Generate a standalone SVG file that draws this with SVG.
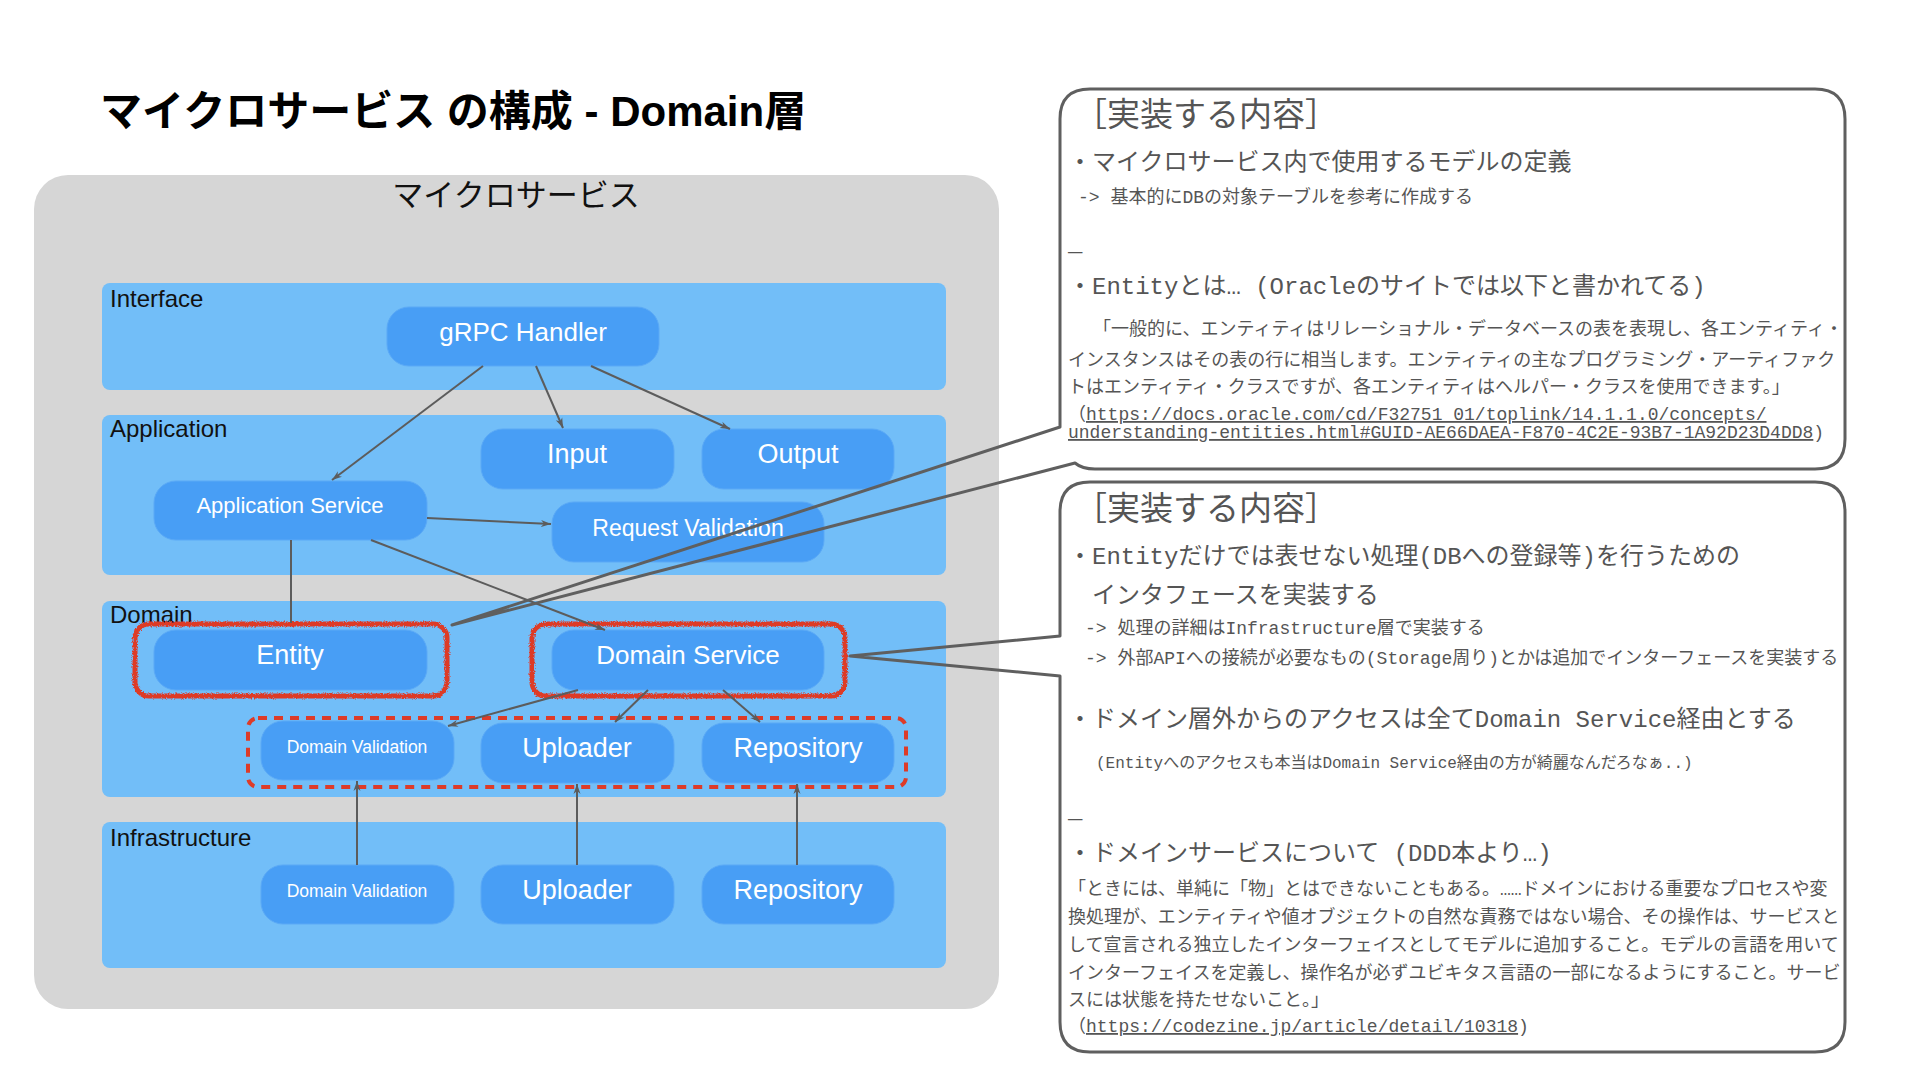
<svg xmlns="http://www.w3.org/2000/svg" width="1920" height="1080" viewBox="0 0 1920 1080">
<style>
.title{font-family:"Liberation Sans","Noto Sans CJK JP",sans-serif;font-weight:bold;font-size:42px;fill:#000}
.svc{font-family:"Noto Sans CJK JP",sans-serif;font-size:31px;fill:#111}
.band{fill:#72BEF8}
.lbl{font-family:"Liberation Sans","Noto Sans CJK JP",sans-serif;font-size:24px;fill:#111}
.node rect{fill:#489EF5;stroke:#5AA9F6;stroke-width:1}
.node text{font-family:"Liberation Sans","Noto Sans CJK JP",sans-serif;fill:#fff;text-anchor:middle}
.conn line,.conn polyline{stroke:#5c5c5c;stroke-width:2;fill:none}
.rough{fill:none;stroke:#DD3B28;stroke-width:5;filter:url(#rough)}
.dash{fill:none;stroke:#DD3B28;stroke-width:4;stroke-dasharray:9 7}
.callout{fill:none;stroke:#5f5f5f;stroke-width:3;stroke-linejoin:round}
.ct{font-family:"Liberation Mono","Noto Sans CJK JP",monospace;fill:#555}
.h{font-size:33px}
.b{font-size:24px}
.s{font-size:18px}
.xs{font-size:16px}
.u{text-decoration:underline}
</style>
<defs>
<marker id="arr" markerUnits="userSpaceOnUse" markerWidth="12" markerHeight="10" refX="10" refY="4" orient="auto">
<path d="M0,0.5 L10,4 L0,7.5 L3,4 Z" fill="#5c5c5c"/>
</marker>
<filter id="rough" x="-10%" y="-20%" width="120%" height="140%">
<feTurbulence type="fractalNoise" baseFrequency="0.9" numOctaves="2" seed="3" result="n"/>
<feDisplacementMap in="SourceGraphic" in2="n" scale="4" xChannelSelector="R" yChannelSelector="G"/>
</filter>
</defs>
<rect width="1920" height="1080" fill="#fff"/>

<text class="title" x="100" y="126">マイクロサービス の構成 - Domain層</text>

<g id="microservice">
<rect x="34" y="175" width="965" height="834" rx="34" fill="#D6D6D6"/>
<text class="svc" x="516" y="206" text-anchor="middle">マイクロサービス</text>
</g>

<g id="layer-interface"><rect class="band" x="102" y="283" width="844" height="107" rx="8"/><text class="lbl" x="110" y="307">Interface</text></g>
<g id="layer-application"><rect class="band" x="102" y="415" width="844" height="160" rx="8"/><text class="lbl" x="110" y="437">Application</text></g>
<g id="layer-domain"><rect class="band" x="102" y="601" width="844" height="196" rx="8"/><text class="lbl" x="110" y="623">Domain</text></g>
<g id="layer-infrastructure"><rect class="band" x="102" y="822" width="844" height="146" rx="8"/><text class="lbl" x="110" y="846">Infrastructure</text></g>

<g id="grpc-handler" class="node"><rect x="387" y="307" width="272" height="59" rx="22"/><text x="523" y="341" font-size="26">gRPC Handler</text></g>
<g id="input" class="node"><rect x="481" y="429" width="193" height="60" rx="22"/><text x="577" y="463" font-size="27">Input</text></g>
<g id="output" class="node"><rect x="702" y="429" width="192" height="60" rx="22"/><text x="798" y="463" font-size="27">Output</text></g>
<g id="application-service" class="node"><rect x="154" y="481" width="273" height="59" rx="22"/><text x="290" y="513" font-size="22">Application Service</text></g>
<g id="request-validation" class="node"><rect x="552" y="502" width="272" height="60" rx="22"/><text x="688" y="536" font-size="23">Request Validation</text></g>
<g id="entity" class="node"><rect x="154" y="630" width="273" height="60" rx="22"/><text x="290" y="664" font-size="27">Entity</text></g>
<g id="domain-service" class="node"><rect x="552" y="630" width="272" height="60" rx="22"/><text x="688" y="664" font-size="26">Domain Service</text></g>
<g id="domain-validation" class="node"><rect x="261" y="721" width="193" height="59" rx="22"/><text x="357" y="753" font-size="17.5">Domain Validation</text></g>
<g id="uploader" class="node"><rect x="481" y="723" width="193" height="60" rx="22"/><text x="577" y="757" font-size="27">Uploader</text></g>
<g id="repository" class="node"><rect x="702" y="723" width="192" height="60" rx="22"/><text x="798" y="757" font-size="27">Repository</text></g>
<g id="infra-domain-validation" class="node"><rect x="261" y="865" width="193" height="59" rx="22"/><text x="357" y="897" font-size="17.5">Domain Validation</text></g>
<g id="infra-uploader" class="node"><rect x="481" y="865" width="193" height="59" rx="22"/><text x="577" y="899" font-size="27">Uploader</text></g>
<g id="infra-repository" class="node"><rect x="702" y="865" width="192" height="59" rx="22"/><text x="798" y="899" font-size="27">Repository</text></g>

<g id="highlights">
<rect class="rough" x="135" y="624" width="312" height="72" rx="14"/>
<rect class="rough" x="532" y="624" width="313" height="72" rx="14"/>
<rect class="dash" x="248" y="718" width="658" height="69" rx="10"/>
</g>

<g id="connectors" class="conn">
<line x1="483" y1="366" x2="332" y2="480" marker-end="url(#arr)"/>
<line x1="536" y1="366" x2="563" y2="428" marker-end="url(#arr)"/>
<line x1="591" y1="366" x2="730" y2="429" marker-end="url(#arr)"/>
<line x1="427" y1="518" x2="551" y2="524" marker-end="url(#arr)"/>
<line x1="291" y1="540" x2="291" y2="623"/>
<line x1="371" y1="540" x2="605" y2="630" marker-end="url(#arr)"/>
<line x1="578" y1="690" x2="448" y2="726" marker-end="url(#arr)"/>
<line x1="648" y1="690" x2="615" y2="722" marker-end="url(#arr)"/>
<line x1="723" y1="690" x2="760" y2="722" marker-end="url(#arr)"/>
<line x1="357" y1="865" x2="357" y2="781" marker-end="url(#arr)"/>
<line x1="577" y1="865" x2="577" y2="784" marker-end="url(#arr)"/>
<line x1="797" y1="865" x2="797" y2="784" marker-end="url(#arr)"/>
</g>

<g id="callout-entity">
<path class="callout" d="M1090,89 H1815 Q1845,89 1845,119 V439 Q1845,469 1815,469 H1095 Q1082,469 1075,463 L452,625 L1060,427 V119 Q1060,89 1090,89 Z"/>
<text class="ct h" x="1074" y="126">［実装する内容］</text>
<text class="ct b" x="1068" y="170">・マイクロサービス内で使用するモデルの定義</text>
<text class="ct s" x="1078" y="203">-&gt; 基本的にDBの対象テーブルを参考に作成する</text>
<text class="ct b" x="1068" y="251">_</text>
<text class="ct b" x="1068" y="294">・Entityとは… (Oracleのサイトでは以下と書かれてる)</text>
<text class="ct s" x="1084" y="335">　「一般的に、エンティティはリレーショナル・データベースの表を表現し、各エンティティ・</text>
<text class="ct s" x="1068" y="366">インスタンスはその表の行に相当します。エンティティの主なプログラミング・アーティファク</text>
<text class="ct s" x="1068" y="393">トはエンティティ・クラスですが、各エンティティはヘルパー・クラスを使用できます。」</text>
<text class="ct s" x="1068" y="420">（<tspan class="u">https://docs.oracle.com/cd/F32751_01/toplink/14.1.1.0/concepts/</tspan></text>
<text class="ct s" x="1068" y="438"><tspan class="u">understanding-entities.html#GUID-AE66DAEA-F870-4C2E-93B7-1A92D23D4DD8</tspan>)</text>
</g>

<g id="callout-domain-service">
<path class="callout" d="M1090,482 H1815 Q1845,482 1845,512 V1022 Q1845,1052 1815,1052 H1090 Q1060,1052 1060,1022 V676 L850,656 L1060,636 V512 Q1060,482 1090,482 Z"/>
<text class="ct h" x="1074" y="520">［実装する内容］</text>
<text class="ct b" x="1068" y="564">・Entityだけでは表せない処理(DBへの登録等)を行うための</text>
<text class="ct b" x="1068" y="603">　インタフェースを実装する</text>
<text class="ct s" x="1085" y="634">-&gt; 処理の詳細はInfrastructure層で実装する</text>
<text class="ct s" x="1085" y="664">-&gt; 外部APIへの接続が必要なもの(Storage周り)とかは追加でインターフェースを実装する</text>
<text class="ct b" x="1068" y="727">・ドメイン層外からのアクセスは全てDomain Service経由とする</text>
<text class="ct xs" x="1096" y="768">(Entityへのアクセスも本当はDomain Service経由の方が綺麗なんだろなぁ..)</text>
<text class="ct b" x="1068" y="818">_</text>
<text class="ct b" x="1068" y="861">・ドメインサービスについて (DDD本より…)</text>
<text class="ct s" x="1068" y="895">「ときには、単純に「物」とはできないこともある。……ドメインにおける重要なプロセスや変</text>
<text class="ct s" x="1068" y="923">換処理が、エンティティや値オブジェクトの自然な責務ではない場合、その操作は、サービスと</text>
<text class="ct s" x="1068" y="951">して宣言される独立したインターフェイスとしてモデルに追加すること。モデルの言語を用いて</text>
<text class="ct s" x="1068" y="979">インターフェイスを定義し、操作名が必ずユビキタス言語の一部になるようにすること。サービ</text>
<text class="ct s" x="1068" y="1006">スには状態を持たせないこと。」</text>
<text class="ct s" x="1068" y="1032">（<tspan class="u">https://codezine.jp/article/detail/10318</tspan>)</text>
</g>
</svg>
